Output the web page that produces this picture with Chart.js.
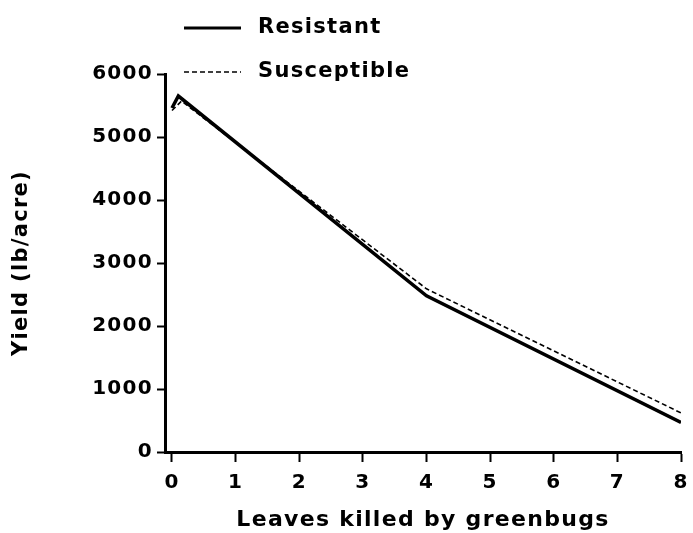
<!DOCTYPE html>
<html>
<head>
<meta charset="utf-8">
<script src="https://cdn.jsdelivr.net/npm/chart.js@4"></script>
<style>
  html, body { margin: 0; padding: 0; background: #fff; }
  #wrap { width: 693px; height: 533px; }
</style>
</head>
<body>
<div id="wrap"><canvas id="yieldChart" width="693" height="533"></canvas></div>
<script>
// yield vs. leaves killed, two sorghum types
const resistantX = [0, 0.1, 4, 8];
const resistantY = [5460, 5650, 2480, 470];
const susceptibleX = [0, 0.15, 4, 8];
const susceptibleY = [5420, 5570, 2590, 620];
const xTicks = [0, 1, 2, 3, 4, 5, 6, 7, 8];
const yTicks = [0, 1000, 2000, 3000, 4000, 5000, 6000];
const seriesNames = ['Resistant', 'Susceptible'];

const toPoints = (xs, ys) => xs.map((x, i) => ({ x: x, y: ys[i] }));
const boldFont = (size) => ({ family: '"DejaVu Sans", sans-serif', weight: 'bold', size: size });
const SPACING = '1.3px';

// wide lettering everywhere; set before measuring and before painting
const spacingPlugin = {
  id: 'spacing',
  beforeLayout: (chart) => { chart.ctx.letterSpacing = SPACING; },
  beforeDraw: (chart) => { chart.ctx.letterSpacing = SPACING; }
};

// stacked legend at the top, drawn by hand
const legendPlugin = {
  id: 'stackLegend',
  afterDraw: (chart) => {
    const ctx = chart.ctx;
    const rows = [
      { label: seriesNames[0], y: 28, width: 3, dash: [] },
      { label: seriesNames[1], y: 72, width: 1.5, dash: [5, 3] }
    ];
    ctx.save();
    ctx.letterSpacing = SPACING;
    ctx.strokeStyle = '#000';
    ctx.fillStyle = '#000';
    ctx.font = 'bold 21px "DejaVu Sans", sans-serif';
    ctx.textBaseline = 'middle';
    rows.forEach((r) => {
      ctx.lineWidth = r.width;
      ctx.setLineDash(r.dash);
      ctx.beginPath();
      ctx.moveTo(184, r.y);
      ctx.lineTo(241, r.y);
      ctx.stroke();
      ctx.fillText(r.label, 258, r.y);
    });
    ctx.restore();
  }
};

new Chart(document.getElementById('yieldChart').getContext('2d'), {
  type: 'line',
  data: {
    datasets: [{
      label: seriesNames[0],
      data: toPoints(resistantX, resistantY),
      borderColor: '#000',
      borderWidth: 3.5,
      pointRadius: 0,
      tension: 0
    }, {
      label: seriesNames[1],
      data: toPoints(susceptibleX, susceptibleY),
      borderColor: '#000',
      borderWidth: 1.6,
      borderDash: [5, 3],
      pointRadius: 0,
      tension: 0
    }]
  },
  options: {
    responsive: false,
    animation: false,
    layout: { padding: { top: 74, right: 12, bottom: 0, left: 0 } },
    plugins: {
      legend: { display: false },
      tooltip: { enabled: false }
    },
    scales: {
      x: {
        type: 'linear',
        min: -0.11,
        max: 8,
        afterBuildTicks: (scale) => { scale.ticks = xTicks.map((v) => ({ value: v })); },
        afterFit: (scale) => {
          scale.height = 81;
          scale.paddingLeft = 0;
          scale.paddingRight = 0;
        },
        grid: { drawOnChartArea: false, drawTicks: true, tickLength: 10, tickWidth: 2, color: '#000' },
        border: { color: '#000', width: 3 },
        ticks: { color: '#000', font: boldFont(20), padding: 9, maxRotation: 0, callback: (v) => String(v) },
        title: {
          display: true,
          text: 'Leaves killed by greenbugs',
          color: '#000',
          font: boldFont(22),
          padding: { top: 0, bottom: 0 }
        }
      },
      y: {
        min: 0,
        max: 6000,
        afterBuildTicks: (scale) => { scale.ticks = yTicks.map((v) => ({ value: v })); },
        afterFit: (scale) => { scale.width = 165; },
        grid: { drawOnChartArea: false, drawTicks: true, tickLength: 8, tickWidth: 2, color: '#000' },
        border: { color: '#000', width: 3 },
        ticks: { color: '#000', font: boldFont(20), padding: 4, callback: (v) => String(v) },
        title: {
          display: true,
          text: 'Yield (lb/acre)',
          color: '#000',
          font: boldFont(21),
          padding: { top: 9, bottom: 0 }
        }
      }
    }
  },
  plugins: [spacingPlugin, legendPlugin]
});
</script>
</body>
</html>
